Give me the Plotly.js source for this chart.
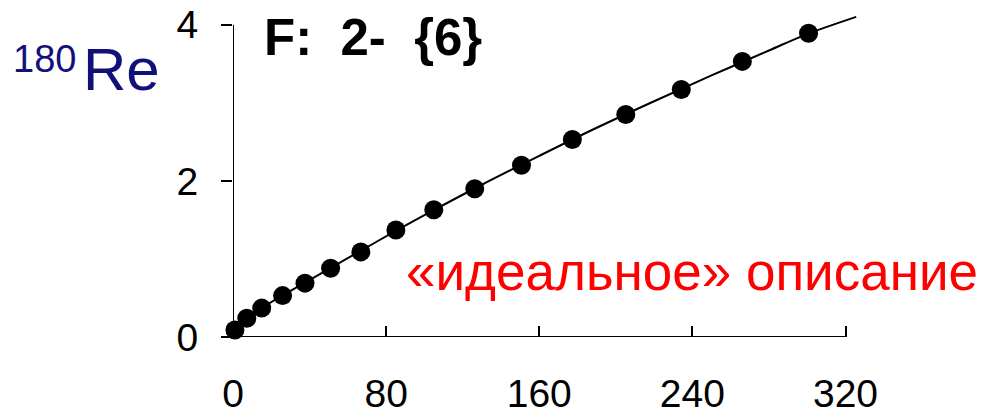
<!DOCTYPE html>
<html><head><meta charset="utf-8">
<script src="https://cdn.plot.ly/plotly-3.0.1.min.js"></script>
<style>html,body{margin:0;padding:0;background:#fff}#chart{width:984px;height:414px}</style>
</head><body><div id="chart"></div>
<script>
// measured points
const xData = [1.0, 7.2, 15.0, 25.9, 37.6, 51.0, 66.8, 85.1, 104.9, 126.3, 150.7, 177.3, 205.2, 234.2, 266.1, 300.7];
const yData = [0.09, 0.24, 0.37, 0.53, 0.69, 0.88, 1.09, 1.37, 1.63, 1.90, 2.20, 2.53, 2.85, 3.17, 3.53, 3.89];
// fitted curve ("ideal" description)
const xFit = [0, 10, 25, 50, 75, 100, 130, 160, 190, 220, 250, 280, 300, 325.6];
const yFit = [0.04, 0.29, 0.52, 0.87, 1.22, 1.56, 1.95, 2.32, 2.68, 3.02, 3.35, 3.67, 3.88, 4.10];
const xTicks = [0, 80, 160, 240, 320];
const yTicks = [0, 2, 4];

const W = 984, H = 414;
const L = 233, R = 857.5, T = 13.3, B = 337;
const xr = [0, 326], yr = [0, 4.15];
const px = p => (p - L) / (R - L);
const py = p => (B - p) / (B - T);

const traces = [
  {x: xFit, y: yFit, mode: 'lines', type: 'scatter', line: {color: '#000', width: 2, shape: 'spline'}, hoverinfo: 'skip'},
  {x: xData, y: yData, mode: 'markers', type: 'scatter', marker: {color: '#000', size: 19}, cliponaxis: false}
];

const font = {family: 'Liberation Sans, Arial, sans-serif', color: '#000'};
const layout = {
  width: W, height: H,
  margin: {l: L, r: W - R, t: T, b: H - B, pad: 0},
  paper_bgcolor: '#fff', plot_bgcolor: '#fff',
  showlegend: false,
  font: font,
  xaxis: {range: xr, tickvals: xTicks, ticktext: xTicks.map(String), ticks: 'inside', ticklen: 11, tickwidth: 2, tickcolor: '#000',
          showgrid: false, zeroline: false, showline: false, tickfont: {family: font.family, size: 39, color: '#000'}, ticklabelstandoff: 30},
  yaxis: {range: yr, tickvals: yTicks, ticktext: yTicks.map(String), ticks: 'outside', ticklen: 11, tickwidth: 2, tickcolor: '#000',
          showgrid: false, zeroline: false, showline: false, tickfont: {family: font.family, size: 39, color: '#000'}, ticklabelstandoff: 15},
  shapes: [
    {type: 'line', xref: 'x', yref: 'y', x0: 0, x1: 320, y0: 0, y1: 0, line: {color: '#000', width: 2}, layer: 'below'},
    {type: 'line', xref: 'x', yref: 'y', x0: 0, x1: 0, y0: 0, y1: 4, line: {color: '#000', width: 2}, layer: 'below'}
  ],
  annotations: [
    {text: '<b>F:  2-  {6}</b>', xref: 'paper', yref: 'paper', x: px(262), y: py(38), xanchor: 'left', yanchor: 'middle', showarrow: false,
     font: {family: font.family, size: 51, color: '#000'}},
    {text: 'Re', xref: 'paper', yref: 'paper', x: px(81), y: py(70), xanchor: 'left', yanchor: 'middle', showarrow: false,
     font: {family: font.family, size: 60, color: '#11117a'}},
    {text: '180', xref: 'paper', yref: 'paper', x: px(11), y: py(59), xanchor: 'left', yanchor: 'middle', showarrow: false,
     font: {family: font.family, size: 38, color: '#11117a'}},
    {text: '«идеальное» описание', xref: 'paper', yref: 'paper', x: px(404), y: py(272), xanchor: 'left', yanchor: 'middle', showarrow: false,
     font: {family: font.family, size: 53, color: '#ff0000'}}
  ]
};
Plotly.newPlot('chart', traces, layout, {staticPlot: true, displayModeBar: false});
</script></body></html>
